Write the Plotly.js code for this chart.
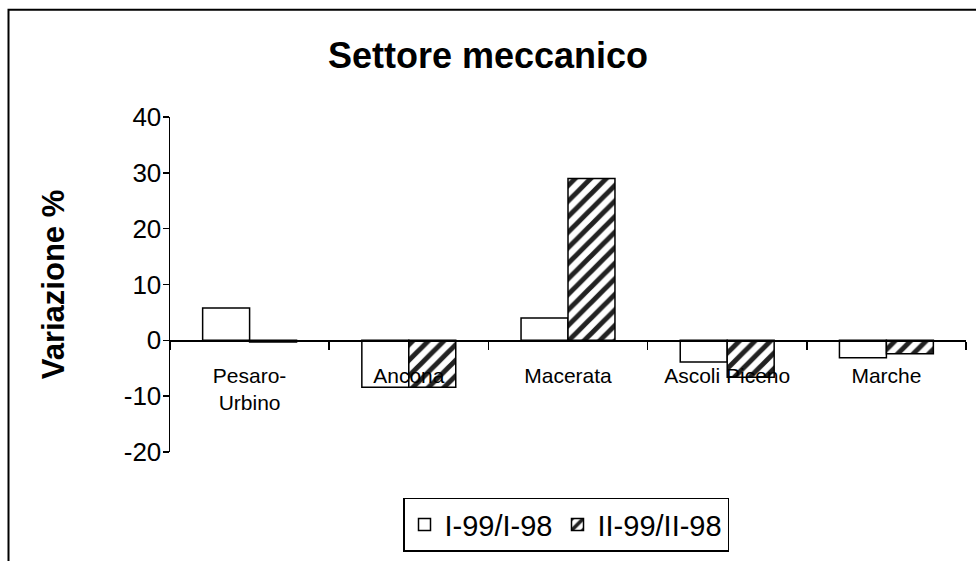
<!DOCTYPE html>
<html>
<head>
<meta charset="utf-8">
<script src="https://cdn.plot.ly/plotly-3.0.1.min.js"></script>
<style>html,body{margin:0;padding:0;background:#fff;}#chart{width:976px;height:561px;}</style>
</head>
<body>
<div id="chart"></div>
<script>
const categories = ["Pesaro-<br>Urbino", "Ancona", "Macerata", "Ascoli Piceno", "Marche"];
const seriesNames = ["I-99/I-98", "II-99/II-98"];
const seriesI = [5.8, -8.4, 4.0, -3.9, -3.1];
const seriesII = [-0.3, -8.4, 29.0, -6.6, -2.4];
const yTicks = [-20, -10, 0, 10, 20, 30, 40];

const FONT = "Liberation Sans, Arial, sans-serif";
const yMin = -20, yMax = 40;

const traces = [
  {
    type: "bar", name: seriesNames[0], x: categories, y: seriesI,
    marker: {color: "#ffffff", line: {color: "#000000", width: 1.5}}
  },
  {
    type: "bar", name: seriesNames[1], x: categories, y: seriesII,
    marker: {
      color: "#ffffff", line: {color: "#000000", width: 1.5},
      pattern: {shape: "/", fgcolor: "#222222", bgcolor: "#ffffff", size: 11, solidity: 0.45}
    }
  }
];

const L = 170, R = 10, T = 117, B = 107, W = 976, H = 561;
const pw = W - L - R, ph = H - T - B;
const px = v => (v - L) / pw;
const py = v => (H - B - v) / ph;

const layout = {
  width: W, height: H,
  margin: {l: L, r: R, t: T, b: B},
  paper_bgcolor: "#ffffff", plot_bgcolor: "#ffffff",
  font: {family: FONT, color: "#000000"},
  title: {
    text: "<b>Settore meccanico</b>", font: {family: FONT, size: 36, color: "#000"},
    x: 0.5, xref: "container", xanchor: "center", y: 1 - 55 / H, yref: "container", yanchor: "middle"
  },
  barmode: "group", bargap: 0.41, bargroupgap: 0,
  xaxis: {
    type: "category", range: [-0.5, categories.length - 0.5],
    anchor: "free", position: (0 - yMin) / (yMax - yMin),
    showline: true, linecolor: "#000", linewidth: 1.5,
    ticks: "outside", tickson: "boundaries", ticklen: 8, tickwidth: 1.5, tickcolor: "#000",
    tickfont: {family: FONT, size: 21, color: "#000"}, ticklabelstandoff: 16,
    showgrid: false, zeroline: false, fixedrange: true
  },
  yaxis: {
    range: [yMin, yMax], tickvals: yTicks, ticktext: yTicks.map(String),
    showline: true, linecolor: "#000", linewidth: 1.5,
    ticks: "outside", ticklen: 6, tickwidth: 1.5, tickcolor: "#000",
    tickfont: {family: FONT, size: 26, color: "#000"}, ticklabelstandoff: -4,
    showgrid: false, zeroline: false, fixedrange: true,
    title: {text: "<b>Variazione %</b>", font: {family: FONT, size: 31, color: "#000"}, standoff: 50}
  },
  showlegend: true,
  legend: {
    orientation: "h", x: px(566), xanchor: "center", y: py(527), yanchor: "middle",
    bordercolor: "#000", borderwidth: 1.5, bgcolor: "#fff",
    font: {family: FONT, size: 29, color: "#000"},
    itemwidth: 30, traceorder: "normal"
  },
  shapes: [
    {type: "rect", xref: "paper", yref: "paper",
     x0: px(8.5), x1: px(990), y0: py(575), y1: py(9),
     line: {color: "#000", width: 2}, fillcolor: "rgba(0,0,0,0)", layer: "below"}
  ]
};

Plotly.newPlot("chart", traces, layout, {displayModeBar: false, staticPlot: true});
</script>
</body>
</html>
